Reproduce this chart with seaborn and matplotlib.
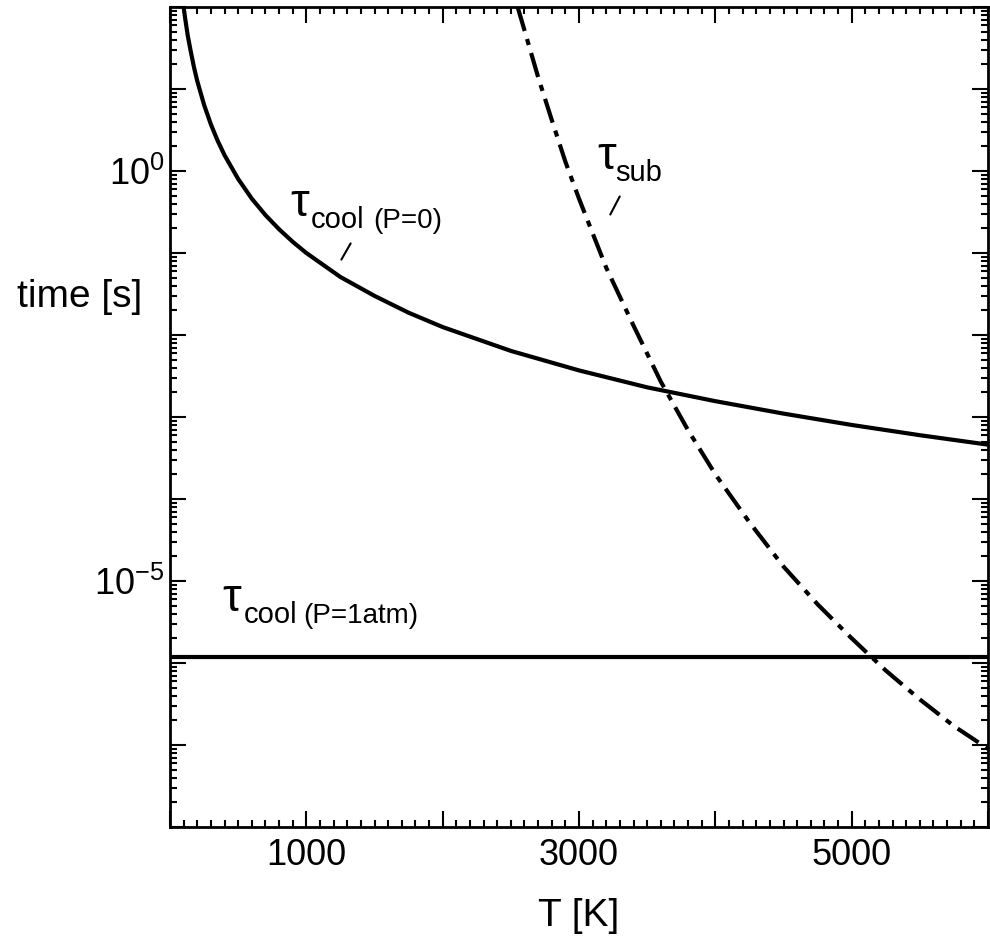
import numpy as np
import pandas as pd
import matplotlib
matplotlib.use("Agg")
import matplotlib.pyplot as plt
from matplotlib.ticker import MultipleLocator, LogLocator, NullFormatter
import seaborn as sns

# temperature grid (K) and times (s)
T_cool = [100, 110, 120, 130, 150, 175, 200, 250, 300, 350, 400, 500, 600,
          700, 800, 900, 1000, 1250, 1500, 1750, 2000, 2500, 3000, 3500,
          4000, 4500, 5000, 5500, 6000]
tau_cool_vac = [100, 75, 58, 45, 30, 18.7, 12.5, 6.4, 3.7, 2.33, 1.56, 0.80,
                0.46, 0.29, 0.195, 0.137, 0.10, 0.051, 0.030, 0.0187, 0.0125,
                0.0064, 0.0037, 0.0023, 0.00156, 0.0011, 0.0008, 0.0006,
                0.00046]

T_sub = [2550, 2600, 2700, 2800, 2900, 3000, 3200, 3400, 3600, 3800, 4000,
         4250, 4500, 4750, 5000, 5250, 5500, 5750, 6000]
tau_sub = [100, 52, 14, 4.2, 1.3, 0.46, 0.066, 0.013, 0.0027, 6.9e-4, 2.0e-4,
           5.2e-5, 1.5e-5, 5.2e-6, 2.0e-6, 8.1e-7, 3.6e-7, 1.7e-7, 9e-8]

T_atm = [0, 6000]
tau_cool_atm = [1.2e-6, 1.2e-6]

x_labels = {1000: "1000", 3000: "3000", 5000: "5000"}
y_labels = {0: r"$10^{0}$", -5: r"$10^{-5}$"}

sns.set_theme(style="ticks")
plt.rcParams["font.family"] = ["Liberation Sans", "DejaVu Sans"]
plt.rcParams["mathtext.fontset"] = "custom"
plt.rcParams["mathtext.rm"] = "Liberation Sans"
plt.rcParams["mathtext.it"] = "Liberation Sans"
plt.rcParams["mathtext.bf"] = "Liberation Sans:bold"
for key in ["text.color", "axes.labelcolor", "xtick.color", "ytick.color",
            "axes.edgecolor"]:
    plt.rcParams[key] = "black"

fig = plt.figure(figsize=(9.9, 9.46), dpi=100)
ax = fig.add_axes([170 / 990, 1 - 827 / 946, 818 / 990, 820 / 946])

df_vac = pd.DataFrame({"T": T_cool, "tau": tau_cool_vac})
df_sub = pd.DataFrame({"T": T_sub, "tau": tau_sub})
df_atm = pd.DataFrame({"T": T_atm, "tau": tau_cool_atm})

sns.lineplot(data=df_vac, x="T", y="tau", ax=ax, color="black", lw=3,
             sort=False, solid_capstyle="butt")
sns.lineplot(data=df_atm, x="T", y="tau", ax=ax, color="black", lw=3,
             sort=False, solid_capstyle="butt")
sns.lineplot(data=df_sub, x="T", y="tau", ax=ax, color="black", lw=3,
             sort=False, dash_capstyle="butt")
ax.lines[-1].set_dashes((6, 2, 1.5, 2))

ax.set_yscale("log")
ax.set_xlim(0, 6000)
ax.set_ylim(1e-8, 1e2)

# ticks
ax.xaxis.set_major_locator(MultipleLocator(1000))
ax.xaxis.set_minor_locator(MultipleLocator(100))
xt = np.arange(0, 6001, 1000)
ax.set_xticks(xt, [x_labels.get(int(v), "") for v in xt])
yt = 10.0 ** np.arange(-8, 3)
ax.set_yticks(yt, [y_labels.get(int(k), "") for k in range(-8, 3)])
ax.yaxis.set_minor_locator(LogLocator(base=10, subs=np.arange(2, 10), numticks=20))
ax.yaxis.set_minor_formatter(NullFormatter())

ax.tick_params(which="both", direction="in", top=True, right=True,
               width=1.5, color="black")
ax.tick_params(which="major", length=11.5)
ax.tick_params(which="minor", length=5)
ax.tick_params(axis="x", which="major", labelsize=26, pad=8)
ax.tick_params(axis="y", which="major", labelsize=26, pad=4)
for s in ax.spines.values():
    s.set_linewidth(2)

ax.set_xlabel("T [K]", fontsize=28, labelpad=18)
ax.set_ylabel("time [s]", fontsize=28, rotation=0, ha="center", va="center")
ax.yaxis.set_label_coords(-0.11, 0.646)


def px(x, y):
    # figure pixel position (from top-left) -> data coordinates
    return (x - 170) / 818 * 6000, 10 ** ((172 - y) / 82)


def curve_label(tau_xy, sub, sub_xy, extra=None, extra_xy=None):
    ax.text(*px(*tau_xy), "\u03c4", fontsize=34, va="baseline")
    ax.text(*px(*sub_xy), sub, fontsize=21, va="baseline")
    if extra:
        ax.text(*px(*extra_xy), extra, fontsize=20, va="baseline")


curve_label((290, 217), "cool", (311, 229), "(P=0)", (373, 229))
ax.annotate("", xy=px(340, 263), xytext=px(352, 242),
            arrowprops=dict(arrowstyle="-", lw=1.5, color="black"))

curve_label((597, 170), "sub", (615, 182))
ax.annotate("", xy=px(609, 218), xytext=px(621, 195),
            arrowprops=dict(arrowstyle="-", lw=1.5, color="black"))

curve_label((222, 612), "cool", (244, 624), "(P=1atm)", (303, 624))

fig.savefig("out.png", dpi=100)
